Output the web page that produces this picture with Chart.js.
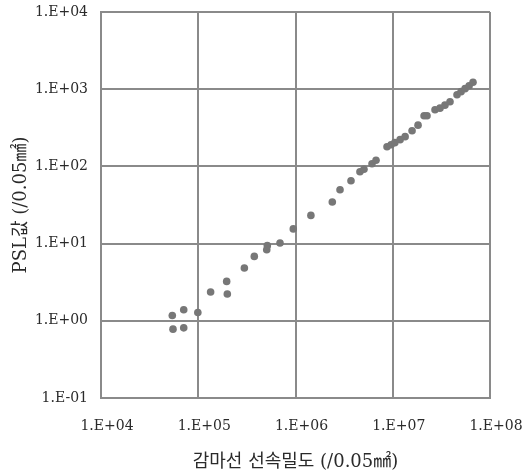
<!DOCTYPE html>
<html>
<head>
<meta charset="utf-8">
<script src="https://cdn.jsdelivr.net/npm/chart.js@4.4.1/dist/chart.umd.min.js"></script>
<style>
  html, body { margin: 0; padding: 0; background: #fff; }
  #wrap { width: 526px; height: 473px; }
</style>
</head>
<body>
<div id="wrap"><canvas id="c" width="526" height="473"></canvas></div>
<script>
// gamma flux density (/0.05 mm2) and PSL values
const fluxValues = [5.41e4, 5.50e4, 7.09e4, 7.09e4, 9.9e4, 1.34e5, 1.96e5, 1.99e5, 2.98e5, 3.77e5,
    5.06e5, 5.13e5, 6.93e5, 9.49e5, 1.44e6, 2.39e6, 2.87e6, 3.72e6, 4.60e6, 5.06e6,
    6.12e6, 6.73e6, 8.73e6, 9.6e6, 1.05e7, 1.19e7, 1.34e7, 1.58e7, 1.82e7, 2.10e7,
    2.25e7, 2.72e7, 3.06e7, 3.44e7, 3.88e7, 4.58e7, 5.04e7, 5.54e7, 6.10e7, 6.69e7]
const pslValues = [1.17, 0.78, 1.39, 0.81, 1.28, 2.36, 3.24, 2.22, 4.83, 6.83,
    8.34, 9.4, 10.2, 15.5, 23.2, 34.6, 49.9, 65.3, 85.3, 92,
    108, 120, 180, 191, 203, 222, 243, 290, 342, 454,
    454, 542, 568, 621, 689, 849, 929, 1016, 1110, 1230]

const xTicks = [1e4, 1e5, 1e6, 1e7, 1e8]
const xTickLabels = ['1.E+04', '1.E+05', '1.E+06', '1.E+07', '1.E+08']
const yTicks = [1e-1, 1e0, 1e1, 1e2, 1e3, 1e4]
const yTickLabels = ['1.E-01', '1.E+00', '1.E+01', '1.E+02', '1.E+03', '1.E+04']

const xTitle = '감마선 선속밀도 (/0.05㎟)'
const yTitle = 'PSL값 (/0.05㎟)'

const serif = "'DejaVu Serif', 'Liberation Serif', 'Noto Sans CJK KR', serif"
const gridColor = '#8a8a8a'
const textColor = '#2a2a2a'

let points = []
for (let i = 0; i < fluxValues.length; i++)
    points.push({x: fluxValues[i], y: pslValues[i]})

function labelFor(ticks, labels, v) {
    for (let i = 0; i < ticks.length; i++)
        if (Math.abs(Math.log10(ticks[i]) - Math.log10(v)) < 1e-6) return labels[i]
    return null
}

const data = {
    datasets: [{
        data: points,
        backgroundColor: '#777777',
        borderWidth: 0,
        pointRadius: 3.8,
        pointHoverRadius: 3.8
    }]
}

const config = {
    type: 'scatter',
    data: data,
    options: {
        responsive: false,
        animation: false,
        layout: { padding: { left: 0, right: 36, top: 12, bottom: 0 } },
        plugins: { legend: { display: false }, tooltip: { enabled: false } },
        scales: {
            x: {
                type: 'logarithmic',
                min: 1e4, max: 1e8,
                afterBuildTicks: s => { s.ticks = xTicks.map(v => ({value: v})) },
                afterFit: s => { s.height = 75; s.paddingLeft = 0; s.paddingRight = 0 },
                grid: { color: gridColor, lineWidth: 2, drawTicks: false },
                border: { display: true, color: gridColor, width: 2 },
                ticks: {
                    color: textColor,
                    font: { family: serif, size: 14 },
                    padding: 20,
                    labelOffset: 6,
                    maxRotation: 0,
                    autoSkip: false,
                    callback: v => labelFor(xTicks, xTickLabels, v)
                },
                title: {
                    display: true,
                    text: xTitle,
                    color: textColor,
                    font: { family: serif, size: 18 },
                    padding: { top: 4, bottom: 0 }
                }
            },
            y: {
                type: 'logarithmic',
                min: 1e-1, max: 1e4,
                afterBuildTicks: s => { s.ticks = yTicks.map(v => ({value: v})) },
                afterFit: s => { s.width = 101; s.paddingTop = 0; s.paddingBottom = 0 },
                grid: { color: gridColor, lineWidth: 2, drawTicks: false },
                border: { display: true, color: gridColor, width: 2 },
                ticks: {
                    color: textColor,
                    font: { family: serif, size: 14 },
                    padding: 13,
                    autoSkip: false,
                    callback: v => labelFor(yTicks, yTickLabels, v)
                },
                title: {
                    display: true,
                    text: yTitle,
                    color: textColor,
                    font: { family: serif, size: 18 },
                    padding: { top: 11, bottom: 0 }
                }
            }
        }
    }
}

let ch = document.getElementById('c').getContext('2d')
new Chart(ch, config)
</script>
</body>
</html>
